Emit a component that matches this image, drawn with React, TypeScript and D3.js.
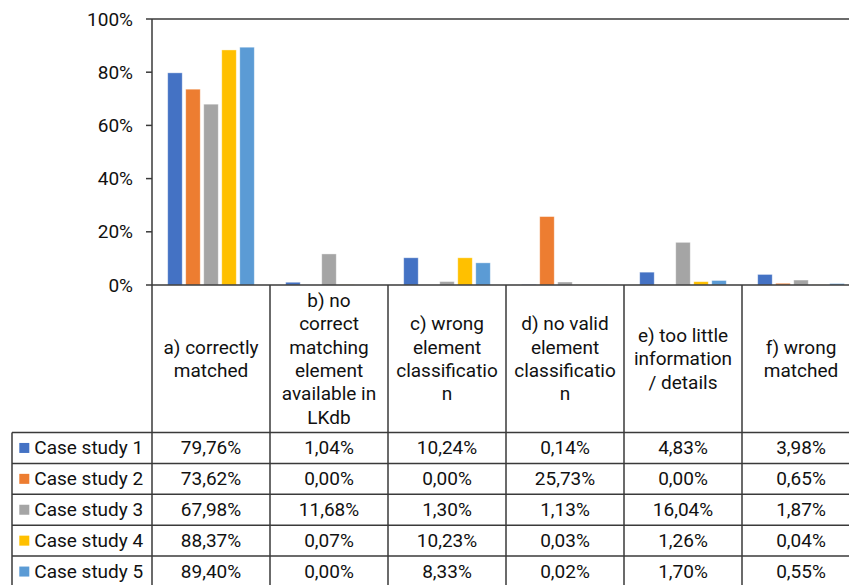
import React from "react";
import * as d3 from "d3";

const categoryLines: string[][] = [
  ["a) correctly", "matched"],
  ["b) no", "correct", "matching", "element", "available in", "LKdb"],
  ["c) wrong", "element", "classificatio", "n"],
  ["d) no valid", "element", "classificatio", "n"],
  ["e) too little", "information", "/ details"],
  ["f) wrong", "matched"],
];
const categories = ["a", "b", "c", "d", "e", "f"];

const seriesNames = ["Case study 1", "Case study 2", "Case study 3", "Case study 4", "Case study 5"];
const seriesColors = ["#4472C4", "#ED7D31", "#A5A5A5", "#FFC000", "#5B9BD5"];

const caseStudy1 = [79.76, 1.04, 10.24, 0.14, 4.83, 3.98];
const caseStudy2 = [73.62, 0.0, 0.0, 25.73, 0.0, 0.65];
const caseStudy3 = [67.98, 11.68, 1.3, 1.13, 16.04, 1.87];
const caseStudy4 = [88.37, 0.07, 10.23, 0.03, 1.26, 0.04];
const caseStudy5 = [89.4, 0.0, 8.33, 0.02, 1.7, 0.55];
const seriesValues = [caseStudy1, caseStudy2, caseStudy3, caseStudy4, caseStudy5];

const yTicks = [0, 20, 40, 60, 80, 100];

const W = 849;
const H = 585;
const FONT = "Roboto, 'Noto Sans', sans-serif";
const FS = 19;
const LINE = "#3a3a3a";

export default function App() {
  const left = 152;
  const colW = 118;
  const top = 19;
  const base = 285;
  const headerBottom = 432.5;
  const rowH = 30.9;
  const tableLeft = 12;

  const x = d3
    .scaleBand<string>()
    .domain(categories)
    .range([left, left + colW * categories.length])
    .padding(0);
  const inner = d3
    .scaleBand<string>()
    .domain(seriesNames)
    .range([15.7, colW - 15.7])
    .paddingInner(0.194)
    .paddingOuter(0);
  const y = d3.scaleLinear().domain([0, 100]).range([base, top]);

  const fmt = (v: number) => v.toFixed(2).replace(".", ",") + "%";
  const colEdges = categories.map((c) => x(c)!).concat([x(categories[categories.length - 1])! + colW]);
  const lineH = 23.3;
  const headerMid = (base + headerBottom) / 2;

  return (
    <svg
      width={W}
      height={H}
      style={{ position: "absolute", left: 0, top: 0, background: "#fff" }}
      fontFamily={FONT}
    >
      <rect width={W} height={H} fill="#fff" />
      {/* top gridline */}
      <line x1={left} x2={W} y1={y(100)} y2={y(100)} stroke={LINE} strokeWidth={1.5} />

      {/* bars */}
      {seriesNames.map((s, si) =>
        categories.map((c, ci) => {
          const v = seriesValues[si][ci];
          const bx = x(c)! + inner(s)!;
          return (
            <rect
              key={s + c}
              x={bx}
              y={y(v)}
              width={inner.bandwidth()}
              height={base - y(v)}
              fill={seriesColors[si]}
              stroke="#ffffff"
              strokeOpacity={0.5}
              strokeWidth={0.8}
            />
          );
        })
      )}

      {/* y axis ticks & labels */}
      {yTicks.map((t) => (
        <g key={t}>
          <line x1={left - 6} x2={left} y1={y(t)} y2={y(t)} stroke={LINE} strokeWidth={1.5} />
          <text
            x={133}
            y={y(t)}
            textAnchor="end"
            dominantBaseline="central"
            fontSize={FS}
            fill="#111"
          >
            {t}%
          </text>
        </g>
      ))}

      {/* baseline & axis */}
      <line x1={left} x2={W} y1={base} y2={base} stroke={LINE} strokeWidth={1.5} />
      <line x1={left} x2={left} y1={top} y2={H + 5} stroke={LINE} strokeWidth={1.5} />

      {/* column separators */}
      {colEdges.slice(1).map((e, i) => (
        <line key={i} x1={e} x2={e} y1={base} y2={H + 5} stroke={LINE} strokeWidth={1.5} />
      ))}

      {/* category headers */}
      {categories.map((c, ci) => {
        const lines = categoryLines[ci];
        const start = headerMid - ((lines.length - 1) * lineH) / 2;
        return (
          <g key={c}>
            {lines.map((ln, li) => (
              <text
                key={li}
                x={x(c)! + colW / 2}
                y={start + li * lineH}
                textAnchor="middle"
                dominantBaseline="central"
                fontSize={FS}
                fill="#111"
              >
                {ln}
              </text>
            ))}
          </g>
        );
      })}

      {/* data table rows */}
      <line x1={tableLeft} x2={W} y1={headerBottom} y2={headerBottom} stroke={LINE} strokeWidth={1.5} />
      <line x1={tableLeft} x2={tableLeft} y1={headerBottom} y2={H + 5} stroke={LINE} strokeWidth={1.5} />
      {seriesNames.map((s, si) => {
        const rTop = headerBottom + si * rowH;
        const mid = rTop + rowH / 2;
        return (
          <g key={s}>
            <line
              x1={tableLeft}
              x2={W}
              y1={rTop + rowH}
              y2={rTop + rowH}
              stroke={LINE}
              strokeWidth={1.5}
            />
            <rect x={19.3} y={mid - 5} width={10} height={10} fill={seriesColors[si]} />
            <text x={34.3} y={mid} dominantBaseline="central" fontSize={FS} fill="#111">
              {s}
            </text>
            {categories.map((c, ci) => (
              <text
                key={c}
                x={x(c)! + colW / 2}
                y={mid}
                textAnchor="middle"
                dominantBaseline="central"
                fontSize={FS}
                fill="#111"
              >
                {fmt(seriesValues[si][ci])}
              </text>
            ))}
          </g>
        );
      })}
    </svg>
  );
}
